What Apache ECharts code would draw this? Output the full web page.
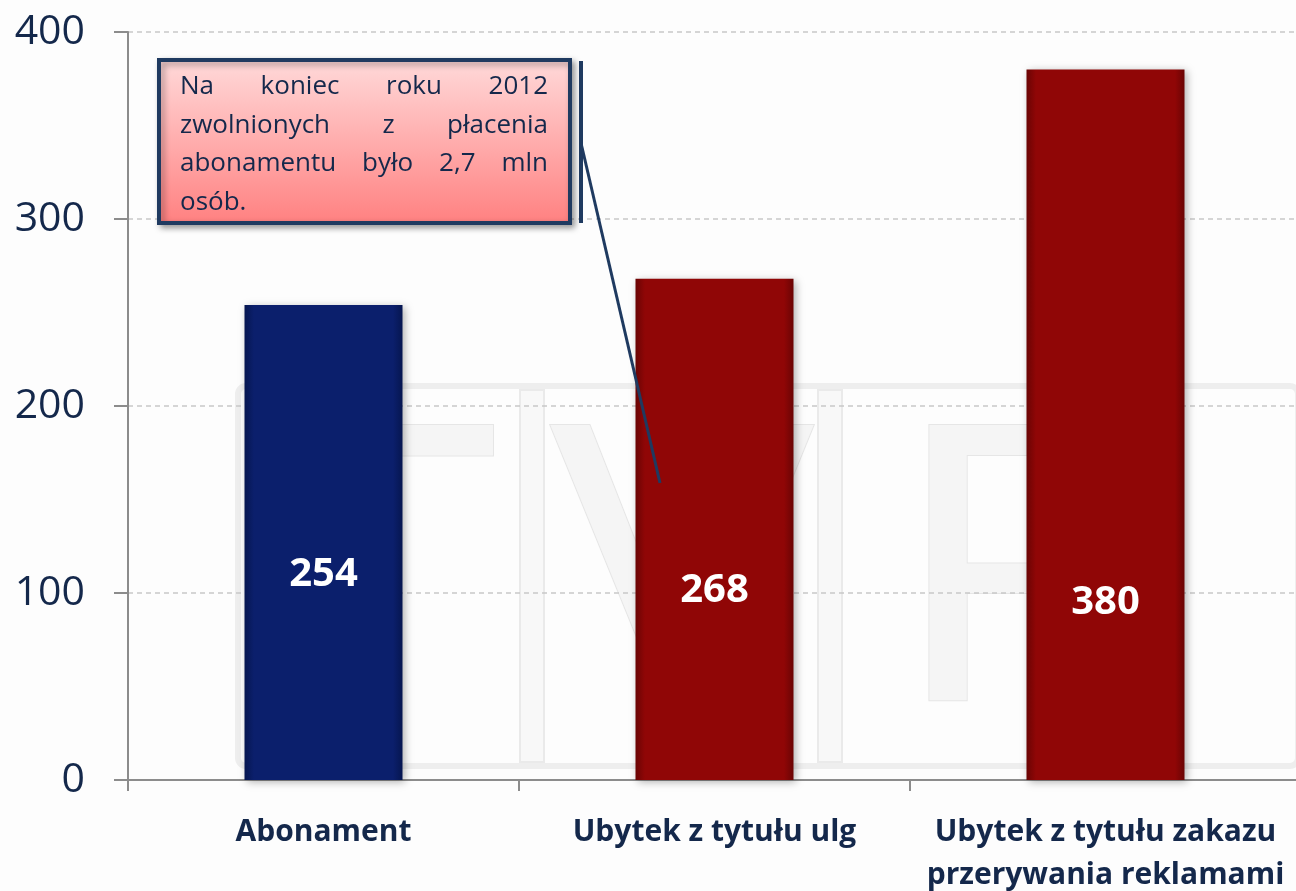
<!DOCTYPE html>
<html><head><meta charset="utf-8">
<script src="https://cdn.jsdelivr.net/npm/echarts@6/dist/echarts.min.js"></script>
<style>html,body{margin:0;padding:0;background:#fdfdfd}#c{width:1296px;height:891px}</style>
</head><body><div id="c"></div>
<script>
// ---- data ----
const categories = ['Abonament', 'Ubytek z tytułu ulg', 'Ubytek z tytułu zakazu\nprzerywania reklamami'];
const values = [254, 268, 380];
const yTicks = [0, 100, 200, 300, 400];
const calloutLines = [
  ['Na', 'koniec', 'roku', '2012'],
  ['zwolnionych', 'z', 'płacenia'],
  ['abonamentu', 'było', '2,7', 'mln'],
  ['osób.']
];

// ---- styles ----
const navy = '#14284b';
const barStyles = [
  {c0: '#061650', c1: '#0b1f6c'},
  {c0: '#6a0404', c1: '#900606'},
  {c0: '#6a0404', c1: '#900606'}
];
const labelDist = [185, 169, 157];

const chart = echarts.init(document.getElementById('c'), null, {renderer: 'canvas'});

// justified callout text
const boxL = 180, boxR = 548, lineY0 = 87, lineStep = 38.5;
const textFont = '26px "Open Sans"';
const mctx = document.createElement('canvas').getContext('2d');
mctx.font = textFont;
const calloutTexts = [];
calloutLines.forEach((words, i) => {
  const y = lineY0 + i * lineStep;
  const last = i === calloutLines.length - 1;
  const widths = words.map(w => mctx.measureText(w).width);
  const total = widths.reduce((a, b) => a + b, 0);
  const gap = (!last && words.length > 1) ? (boxR - boxL - total) / (words.length - 1) : mctx.measureText(' ').width;
  let x = boxL;
  words.forEach((w, j) => {
    calloutTexts.push({type: 'text', z: 102, x: x, y: y,
      style: {text: w, font: textFont, fill: navy, verticalAlign: 'middle', textAlign: 'left'}});
    x += widths[j] + gap;
  });
});

const wmStyle = {fill: '#f5f5f5', stroke: '#e6e6e6', lineWidth: 2};
const watermark = [
  {type: 'rect', z: -1, silent: true, shape: {x: 238, y: 386, width: 1060, height: 380, r: 8},
    style: {fill: 'rgba(0,0,0,0)', stroke: '#eeeeee', lineWidth: 6}},
  {type: 'rect', z: -1, silent: true, shape: {x: 520, y: 390, width: 24, height: 372},
    style: {fill: '#f8f8f8', stroke: '#eaeaea', lineWidth: 2}},
  {type: 'rect', z: -1, silent: true, shape: {x: 818, y: 390, width: 24, height: 372},
    style: {fill: '#f8f8f8', stroke: '#eaeaea', lineWidth: 2}},
  {type: 'text', z: -1, silent: true, x: 380, y: 590,
    style: Object.assign({text: 'T', font: '400px "Liberation Sans"', textAlign: 'center', verticalAlign: 'middle'}, wmStyle)},
  {type: 'text', z: -1, silent: true, x: 682, y: 590,
    style: Object.assign({text: 'V', font: '400px "Liberation Sans"', textAlign: 'center', verticalAlign: 'middle'}, wmStyle)},
  {type: 'text', z: -1, silent: true, x: 1030, y: 590,
    style: Object.assign({text: 'P', font: '400px "Liberation Sans"', textAlign: 'center', verticalAlign: 'middle'}, wmStyle)}
];

const callout = [
  {type: 'rect', z: 100, shape: {x: 159, y: 60, width: 411, height: 163},
    style: {
      fill: new echarts.graphic.LinearGradient(0, 0, 0, 1, [
        {offset: 0, color: '#ffdada'}, {offset: 1, color: '#ff8080'}]),
      stroke: '#1f3a60', lineWidth: 4,
      shadowBlur: 6, shadowOffsetX: 3, shadowOffsetY: 3, shadowColor: 'rgba(0,0,0,0.35)'
    }},
  {type: 'line', z: 100, shape: {x1: 581, y1: 61, x2: 581, y2: 223},
    style: {stroke: '#1f3a60', lineWidth: 4}},
  {type: 'line', z: 100, shape: {x1: 581, y1: 143, x2: 660, y2: 483},
    style: {stroke: '#1f3a60', lineWidth: 3}}
];

const option = {
  backgroundColor: '#fdfdfd',
  animation: false,
  grid: {left: 128, top: 32, width: 1173, height: 748, containLabel: false, outerBoundsMode: 'none'},
  xAxis: {
    type: 'category',
    data: categories,
    axisLine: {show: true, lineStyle: {color: '#8c8c8c', width: 2}},
    axisTick: {show: true, length: 11, lineStyle: {color: '#8c8c8c', width: 2}},
    axisLabel: {
      color: navy, fontFamily: 'Open Sans', fontWeight: 'bold', fontSize: 30,
      lineHeight: 43, margin: 31, interval: 0
    }
  },
  yAxis: {
    type: 'value',
    min: yTicks[0], max: yTicks[yTicks.length - 1], interval: yTicks[1] - yTicks[0],
    axisLine: {show: true, lineStyle: {color: '#8c8c8c', width: 2}},
    axisTick: {show: true, length: 14, lineStyle: {color: '#8c8c8c', width: 2}},
    axisLabel: {color: navy, fontFamily: 'Open Sans', fontSize: 41, margin: 43},
    splitLine: {show: true, lineStyle: {color: '#c8c8c8', type: [5, 4], width: 1.5}}
  },
  series: [{
    type: 'bar',
    barWidth: 158,
    data: values.map((v, i) => ({
      value: v,
      itemStyle: {
        color: new echarts.graphic.LinearGradient(0, 0, 1, 0, [
          {offset: 0, color: barStyles[i].c0},
          {offset: 0.06, color: barStyles[i].c1},
          {offset: 0.94, color: barStyles[i].c1},
          {offset: 1, color: barStyles[i].c0}
        ]),
        shadowBlur: 8, shadowOffsetX: 2, shadowOffsetY: 2, shadowColor: 'rgba(0,0,0,0.3)'
      },
      label: {distance: labelDist[i]}
    })),
    label: {
      show: true, position: 'insideBottom', color: '#ffffff',
      fontFamily: 'Open Sans', fontWeight: 'bold', fontSize: 40
    }
  }],
  graphic: {elements: watermark.concat(callout, calloutTexts)}
};
chart.setOption(option);
</script>
</body></html>
